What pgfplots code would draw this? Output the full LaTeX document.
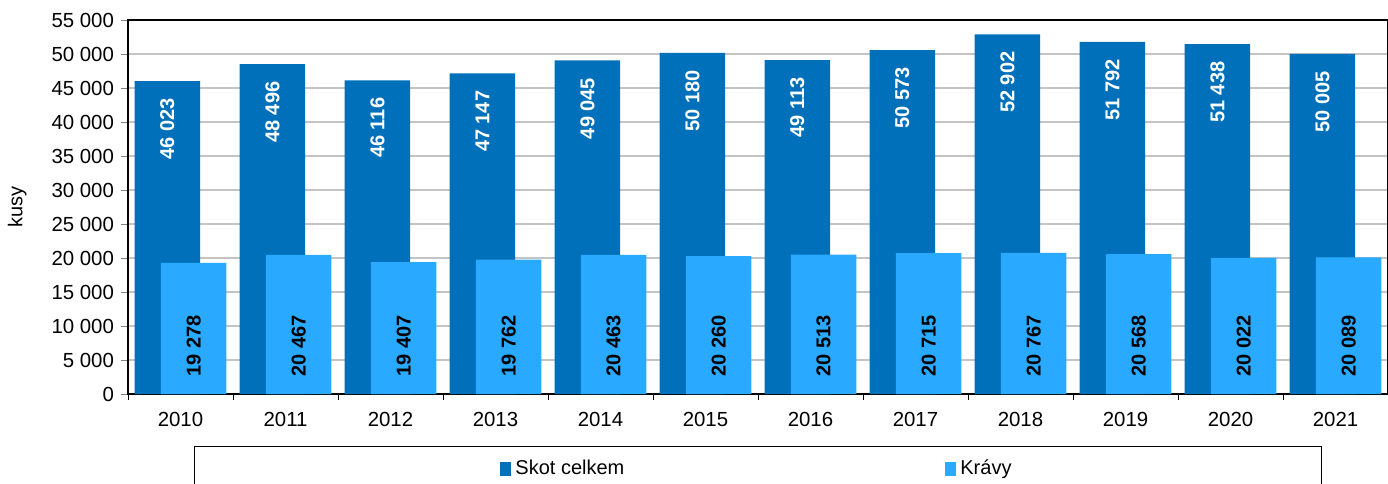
\documentclass[border=0pt]{standalone}
\usepackage{pgfplots}
\pgfplotsset{compat=1.18}
\usepackage{fontspec}
\setmainfont{Liberation Sans}
\definecolor{darkb}{HTML}{0070BA}
\definecolor{lightb}{HTML}{29A9FF}
\definecolor{gridg}{HTML}{C4C4C4}
\begin{document}
\begin{tikzpicture}
\begin{axis}[
  scale only axis,
  width=630pt, height=187pt,
  xmin=-0.5, xmax=11.5,
  ymin=0, ymax=55000,
  ytick={0,5000,...,55000},
  scaled y ticks=false,
  xtick={0,...,11},
  xticklabels={2010,2011,2012,2013,2014,2015,2016,2017,2018,2019,2020,2021},
  minor xtick={-0.5,0.5,...,11.5},
  major x tick style={draw=none},
  minor x tick style={black, thin},
  minor tick length=3pt,
  major tick length=3.5pt,
  tick align=outside,
  ytick pos=left,
  xtick pos=bottom,
  ymajorgrids,
  grid style={gridg, line width=0.7pt},
  axis line style={black, line width=0.8pt},
  tick label style={font=\fontsize{10.2}{12}\selectfont},
  /pgf/number format/.cd, 1000 sep={\ }, assume math mode=true,
  /pgfplots/.cd,
  ylabel={kusy},
  ylabel style={font=\fontsize{10}{12}\selectfont, at={(axis description cs:-0.088,0.5)}, anchor=center},
  xticklabel style={yshift=-2pt},
  ybar, bar width=0.626,
  legend columns=2,
  legend style={at={(axis description cs:0.5,-0.2005)}, anchor=center,
    draw=black, line width=0.6pt, inner xsep=153pt, inner ysep=5pt,
    font=\fontsize{10}{12}\selectfont,
    /tikz/every even column/.append style={column sep=158.5pt}},
  legend image code/.code={\fill[#1] (0pt,-3.5pt) rectangle (5.5pt,3.5pt);},
  clip=false,
]
\addplot[fill=darkb, draw=none, bar shift=-0.125,
  nodes near coords,
  nodes near coords style={font=\bfseries\fontsize{10}{12}\selectfont, color=white, inner sep=0pt, yshift=-8.5pt, rotate=90, anchor=east},
] coordinates {(0,46023) (1,48496) (2,46116) (3,47147) (4,49045) (5,50180) (6,49113) (7,50573) (8,52902) (9,51792) (10,51438) (11,50005)};
\addplot[fill=lightb, draw=none, bar shift=0.125] coordinates {(0,19278) (1,20467) (2,19407) (3,19762) (4,20463) (5,20260) (6,20513) (7,20715) (8,20767) (9,20568) (10,20022) (11,20089)};
\addplot[draw=none, fill=none, bar shift=0.125, forget plot,
  point meta=explicit,
  nodes near coords,
  nodes near coords style={font=\bfseries\fontsize{10}{12}\selectfont, color=black, inner sep=0pt, yshift=8.5pt, rotate=90, anchor=west},
] coordinates {(0,0) [19278] (1,0) [20467] (2,0) [19407] (3,0) [19762] (4,0) [20463] (5,0) [20260] (6,0) [20513] (7,0) [20715] (8,0) [20767] (9,0) [20568] (10,0) [20022] (11,0) [20089]};
\legend{Skot celkem, Krávy}
\end{axis}
\pgfresetboundingbox
\path[use as bounding box] (-64pt,-44.5pt) rectangle (630pt,197pt);
\end{tikzpicture}
\end{document}
